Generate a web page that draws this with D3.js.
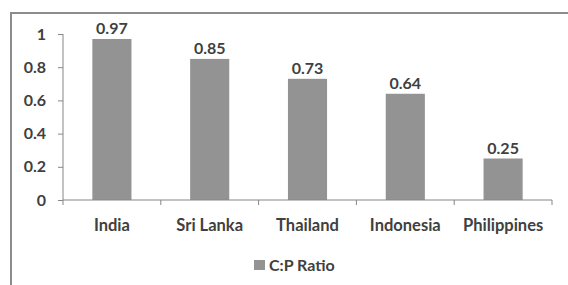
<!DOCTYPE html>
<html><head><meta charset="utf-8">
<script src="https://cdn.jsdelivr.net/npm/d3@7"></script>
<style>body{margin:0;background:#fff}svg{display:block}text{font-family:Lato,"Open Sans",sans-serif;font-weight:bold;fill:#404040}</style>
</head><body><svg id="c" width="568" height="285"></svg>
<script>
const categories = ["India","Sri Lanka","Thailand","Indonesia","Philippines"];
const values = [0.97,0.85,0.73,0.64,0.25];
const valueLabels = ["0.97","0.85","0.73","0.64","0.25"];
const yTicks = [0,0.2,0.4,0.6,0.8,1];
const seriesName = "C:P Ratio";

const svg = d3.select("#c");
// frame
svg.append("path").attr("d","M11,285 L11,13 L568,13").attr("fill","none").attr("stroke","#8c8c8c").attr("stroke-width",2);

const x = d3.scaleBand().domain(categories).range([63,552]).paddingInner(0.6).paddingOuter(0.3);
const xa = d3.scaleBand().domain(categories).range([63,552]);
const y = d3.scaleLinear().domain([0,1]).range([200,34]);

svg.selectAll("rect.bar").data(values).join("rect").attr("class","bar")
  .attr("x",(d,i)=>x(categories[i])).attr("width",x.bandwidth())
  .attr("y",d=>y(d)).attr("height",d=>y(0)-y(d)).attr("fill","#939393");

svg.selectAll("text.val").data(values).join("text").attr("class","val")
  .attr("x",(d,i)=>x(categories[i])+x.bandwidth()/2).attr("y",d=>y(d)-5)
  .attr("text-anchor","middle").attr("font-size",16).text((d,i)=>valueLabels[i]);

// y axis
const ya = svg.append("g").attr("transform","translate(63,0)")
  .call(d3.axisLeft(y).tickValues(yTicks).tickSize(5).tickPadding(12).tickFormat(d3.format("")));
ya.select(".domain").attr("stroke","#868686").attr("d","M0,34V200");
ya.selectAll(".tick line").attr("stroke","#868686");
ya.selectAll(".tick text").attr("font-size",16).attr("font-family","Lato,'Open Sans',sans-serif").attr("font-weight","bold").attr("fill","#404040");

// x axis
const xg = svg.append("g").attr("transform","translate(0,200)");
xg.append("line").attr("x1",63).attr("x2",552).attr("stroke","#868686");
const bounds = categories.map(c=>xa(c)).concat([xa(categories[categories.length-1])+xa.bandwidth()]);
xg.selectAll("line.t").data(bounds).join("line").attr("class","t")
  .attr("x1",d=>d).attr("x2",d=>d).attr("y1",0).attr("y2",5).attr("stroke","#868686");
xg.selectAll("text").data(categories).join("text")
  .attr("x",d=>xa(d)+xa.bandwidth()/2).attr("y",31).attr("text-anchor","middle")
  .attr("font-size",16.5).text(d=>d);

// legend
svg.append("rect").attr("x",254).attr("y",260).attr("width",11).attr("height",10).attr("fill","#939393");
svg.append("text").attr("x",269).attr("y",271).attr("font-size",16).text(seriesName);
</script></body></html>
